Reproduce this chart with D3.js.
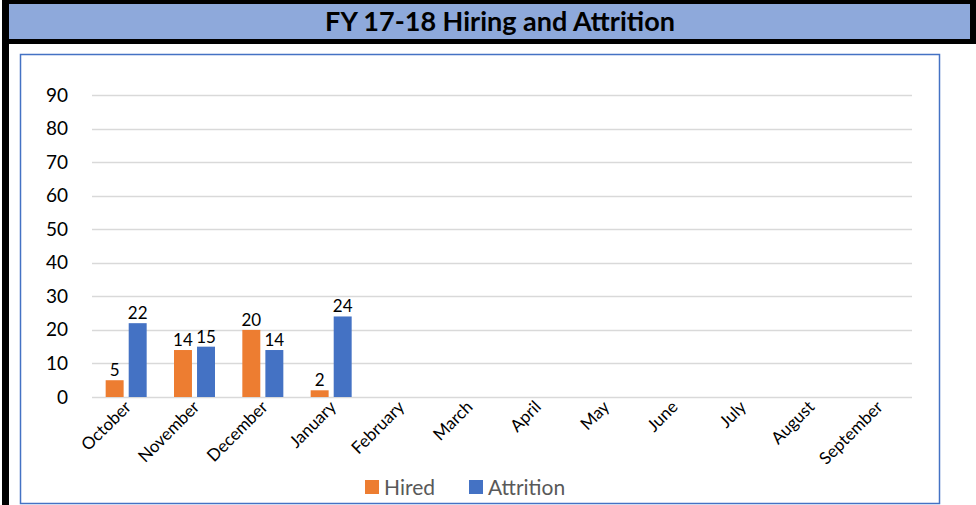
<!DOCTYPE html>
<html>
<head>
<meta charset="utf-8">
<script src="https://cdn.jsdelivr.net/npm/d3@7"></script>
<style>
  body { margin: 0; background: #fff; }
  svg { display: block; font-family: Lato, "Open Sans", sans-serif; }
</style>
</head>
<body>
<div id="chart"></div>
<script>
const months = ["October", "November", "December", "January", "February", "March",
                "April", "May", "June", "July", "August", "September"];
const hired = [5, 14, 20, 2, null, null, null, null, null, null, null, null];
const attrition = [22, 15, 14, 24, null, null, null, null, null, null, null, null];
const yTicks = [0, 10, 20, 30, 40, 50, 60, 70, 80, 90];
const seriesNames = ["Hired", "Attrition"];

const W = 976, H = 505;
const color = d3.scaleOrdinal().domain(seriesNames).range(["#ED7D31", "#4472C4"]);

const svg = d3.select("#chart").append("svg")
    .attr("width", W)
    .attr("height", H);

// frame + title bar
svg.append("rect").attr("x", 2).attr("y", 0).attr("width", W - 2).attr("height", 44).attr("fill", "#000");
svg.append("rect").attr("x", 9).attr("y", 4).attr("width", W - 15).attr("height", 35).attr("fill", "#8EA9DB");
svg.append("rect").attr("x", 2).attr("y", 0).attr("width", 7).attr("height", H).attr("fill", "#000");
svg.append("text")
    .attr("x", 500).attr("y", 31)
    .attr("text-anchor", "middle")
    .attr("font-size", 27).attr("font-weight", "bold")
    .text("FY 17-18 Hiring and Attrition");

// chart box
svg.append("rect")
    .attr("x", 20.5).attr("y", 54.5).attr("width", 919).attr("height", 449)
    .attr("fill", "#fff").attr("stroke", "#4472C4").attr("stroke-width", 1.5);

const margin = {left: 92, right: 64, top: 95, bottom: 108};
const plotW = W - margin.left - margin.right;
const plotH = H - margin.top - margin.bottom;

const g = svg.append("g").attr("transform", `translate(${margin.left},${margin.top})`);

const x = d3.scaleBand().domain(months).range([0, plotW]);
const xs = d3.scaleBand().domain(seriesNames).range([x.bandwidth() * 0.2, x.bandwidth() * 0.8]).paddingInner(0.22);
const y = d3.scaleLinear().domain([0, 90]).range([plotH, 0]);

// grid
g.append("g").selectAll("line")
    .data(yTicks)
    .enter().append("line")
    .attr("x1", 0).attr("x2", plotW)
    .attr("y1", d => Math.round(y(d)) + 0.5).attr("y2", d => Math.round(y(d)) + 0.5)
    .attr("stroke", "#d9d9d9").attr("stroke-width", 1.5);

// y axis labels
const axisY = d3.axisLeft(y).tickValues(yTicks).tickSize(0).tickPadding(24);
const ay = g.append("g").call(axisY);
ay.select(".domain").remove();
ay.selectAll("text").attr("font-size", 19).attr("fill", "#000").attr("font-family", "Lato, sans-serif");

// bars
const rows = months.map((m, i) => ({month: m, values: [
    {key: "Hired", value: hired[i]},
    {key: "Attrition", value: attrition[i]}
]}));

const groups = g.selectAll(".month")
    .data(rows)
    .enter().append("g")
    .attr("class", "month")
    .attr("transform", d => `translate(${x(d.month)},0)`);

const items = groups.selectAll(".item")
    .data(d => d.values.filter(v => v.value != null))
    .enter().append("g")
    .attr("class", "item");

items.append("rect")
    .attr("x", d => xs(d.key))
    .attr("y", d => y(d.value))
    .attr("width", xs.bandwidth())
    .attr("height", d => plotH - y(d.value))
    .attr("fill", d => color(d.key));

items.append("text")
    .attr("x", d => xs(d.key) + xs.bandwidth() / 2)
    .attr("y", d => y(d.value) - 4)
    .attr("text-anchor", "middle")
    .attr("font-size", 17)
    .attr("fill", "#000")
    .text(d => d.value);

// x axis labels
const axisX = d3.axisBottom(x).tickSize(0).tickPadding(0);
const ax = g.append("g").attr("transform", `translate(0,${plotH})`).call(axisX);
ax.select(".domain").remove();
ax.selectAll("text")
    .attr("font-size", 17)
    .attr("font-family", "Lato, sans-serif")
    .attr("fill", "#000")
    .attr("text-anchor", "end")
    .attr("dy", 0)
    .attr("transform", "translate(6,11) rotate(-45)");

// legend
const legend = svg.append("g").attr("transform", "translate(365,480)");
const li = legend.selectAll("g")
    .data(seriesNames)
    .enter().append("g")
    .attr("transform", (d, i) => `translate(${i * 104},0)`);
li.append("rect").attr("width", 14).attr("height", 14).attr("fill", d => color(d));
li.append("text")
    .attr("x", 19).attr("y", 15)
    .attr("font-size", 21)
    .attr("fill", "#595959")
    .text(d => d);
</script>
</body>
</html>
